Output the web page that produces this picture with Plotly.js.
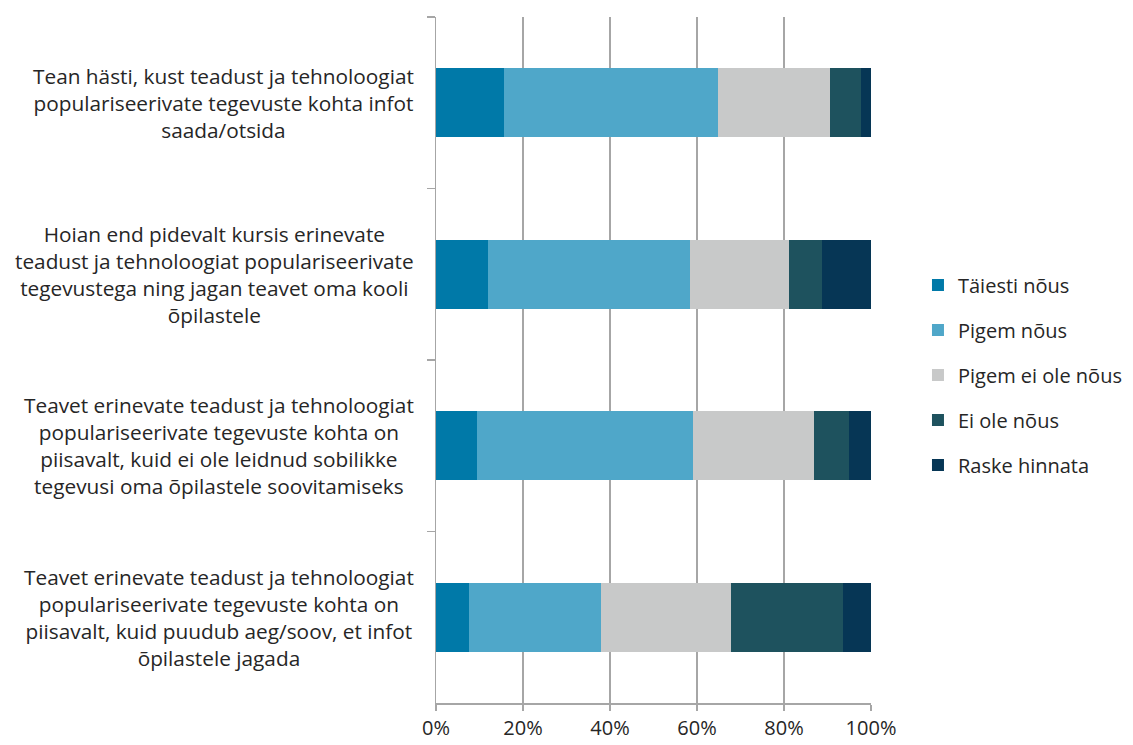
<!DOCTYPE html>
<html><head><meta charset="utf-8">
<script src="https://cdn.plot.ly/plotly-3.0.1.min.js"></script>
<style>html,body{margin:0;padding:0;background:#fff;}#chart{width:1133px;height:745px;}</style>
</head><body><div id="chart"></div>
<script>
const categories = [
  "Tean hästi, kust teadust ja tehnoloogiat<br>populariseerivate tegevuste kohta infot<br>saada/otsida",
  "Hoian end pidevalt kursis erinevate<br>teadust ja tehnoloogiat populariseerivate<br>tegevustega ning jagan teavet oma kooli<br>õpilastele",
  "Teavet erinevate teadust ja tehnoloogiat<br>populariseerivate tegevuste kohta on<br>piisavalt, kuid ei ole leidnud sobilikke<br>tegevusi oma õpilastele soovitamiseks",
  "Teavet erinevate teadust ja tehnoloogiat<br>populariseerivate tegevuste kohta on<br>piisavalt, kuid puudub aeg/soov, et infot<br>õpilastele jagada"
];
const catIds = ["q1", "q2", "q3", "q4"];
const seriesNames = ["Täiesti nõus", "Pigem nõus", "Pigem ei ole nõus", "Ei ole nõus", "Raske hinnata"];
const taiestiNous = [15.7, 12.0, 9.5, 7.6];
const pigemNous = [49.1, 46.5, 49.6, 30.3];
const pigemEiOleNous = [25.8, 22.6, 27.7, 29.8];
const eiOleNous = [7.0, 7.6, 8.2, 25.9];
const raskeHinnata = [2.4, 11.3, 5.0, 6.4];
const xTickVals = [0, 20, 40, 60, 80, 100];
const xTickText = ["0%", "20%", "40%", "60%", "80%", "100%"];

const colors = ["#0079A8", "#4FA7C9", "#C8C9C9", "#1E525E", "#063655"];
const values = [taiestiNous, pigemNous, pigemEiOleNous, eiOleNous, raskeHinnata];
const FONT = "'Open Sans', sans-serif";

const traces = seriesNames.map((n, i) => ({
  type: "bar", orientation: "h", name: n,
  x: values[i], y: catIds,
  marker: {color: colors[i], line: {width: 0}},
  legendgroup: "g" + i,
  hoverinfo: "x+name"
}));

const annotations = categories.map((c, i) => ({
  xref: "paper", yref: "y", x: -0.047, y: catIds[i],
  xanchor: "right", yanchor: "middle", align: "center",
  text: c, showarrow: false,
  font: {family: FONT, size: 20.8, color: "#262626"}
}));

const layout = {
  width: 1133, height: 745,
  margin: {l: 436, r: 262, t: 17, b: 42, autoexpand: false},
  paper_bgcolor: "#fff", plot_bgcolor: "#fff",
  barmode: "stack", bargap: 0.6,
  font: {family: FONT, size: 20, color: "#262626"},
  xaxis: {
    range: [0, 100], tickvals: xTickVals, ticktext: xTickText,
    showgrid: true, gridcolor: "#A6A6A6", gridwidth: 1.5,
    zeroline: false, showline: true, linecolor: "#A6A6A6", linewidth: 1.5,
    ticks: "outside", ticklen: 6, tickcolor: "#A6A6A6", tickwidth: 1.5,
    tickfont: {family: FONT, size: 20, color: "#262626"},
    fixedrange: true
  },
  yaxis: {
    type: "category", categoryorder: "array", categoryarray: catIds,
    autorange: "reversed",
    showticklabels: false, tickson: "boundaries",
    ticks: "outside", ticklen: 8, tickcolor: "#A6A6A6", tickwidth: 1.5,
    showline: true, linecolor: "#A6A6A6", linewidth: 1.5,
    showgrid: false, zeroline: false, fixedrange: true
  },
  legend: {
    x: 1.108, xanchor: "left", y: 0.478, yanchor: "middle",
    traceorder: "grouped", tracegroupgap: 16,
    font: {family: FONT, size: 20, color: "#262626"},
    itemwidth: 30
  },
  annotations: annotations,
  showlegend: true
};

Plotly.newPlot("chart", traces, layout, {displayModeBar: false, staticPlot: true});
</script></body></html>
